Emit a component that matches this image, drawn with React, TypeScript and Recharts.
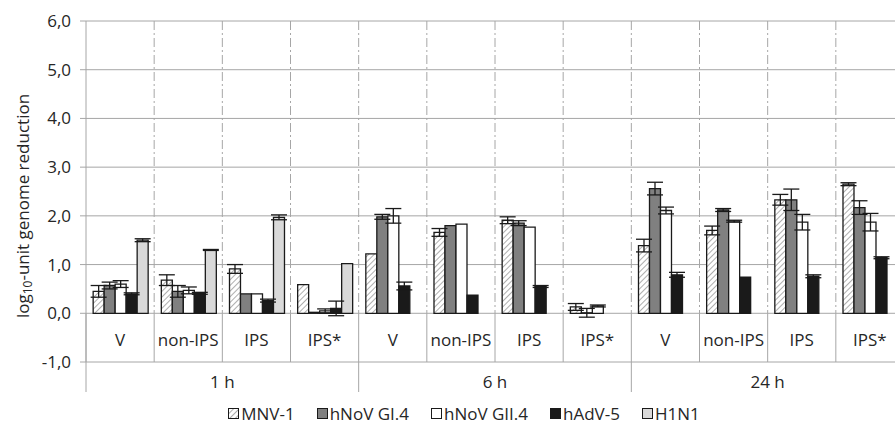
import { BarChart, Bar, XAxis, YAxis, CartesianGrid, ErrorBar } from 'recharts';

// sub-categories, repeated for each time point
const categories = ['V', 'non-IPS', 'IPS', 'IPS*', 'V', 'non-IPS', 'IPS', 'IPS*', 'V', 'non-IPS', 'IPS', 'IPS*'];
const timePoints = ['1 h', '6 h', '24 h'];
const yTicks = [-1, 0, 1, 2, 3, 4, 5, 6];

// log10 reduction values
const mnv = [0.45, 0.68, 0.91, 0.59, 1.22, 1.66, 1.91, 0.13, 1.39, 1.70, 2.33, 2.65];
const mnvErr = [0.12, 0.11, 0.09, 0, 0, 0.08, 0.07, 0.07, 0.13, 0.09, 0.11, 0.03];
const gi4 = [0.57, 0.45, 0.40, 0.02, 1.98, 1.80, 1.85, 0.01, 2.56, 2.12, 2.33, 2.17];
const gi4Err = [0.07, 0.12, 0, 0, 0.05, 0, 0.05, 0.09, 0.13, 0.03, 0.22, 0.14];
const gii4 = [0.60, 0.47, 0.40, 0.05, 2.00, 1.83, 1.77, 0.15, 2.11, 1.89, 1.87, 1.87];
const gii4Err = [0.07, 0.07, 0, 0.04, 0.15, 0, 0, 0.02, 0.07, 0.02, 0.16, 0.18];
const adv = [0.40, 0.41, 0.26, 0.10, 0.56, 0.37, 0.55, 0.0, 0.79, 0.74, 0.76, 1.14];
const advErr = [0.02, 0.02, 0.03, 0.15, 0.08, 0, 0.02, 0.05, 0.05, 0, 0.03, 0.02];
const h1n1 = [1.50, 1.30, 1.97, 1.02, null, null, null, null, null, null, null, null];
const h1n1Err = [0.03, 0.01, 0.05, 0, null, null, null, null, null, null, null, null];

const rows = categories.map((c, i) => ({
  id: `${timePoints[Math.floor(i / 4)]}|${c}`,
  mnv: mnv[i], mnvErr: mnvErr[i],
  gi4: gi4[i], gi4Err: gi4Err[i],
  gii4: gii4[i], gii4Err: gii4Err[i],
  adv: adv[i], advErr: advErr[i],
  h1n1: h1n1[i], h1n1Err: h1n1Err[i],
}));

const FONT = '"Open Sans", sans-serif';
const FS = 17;
const TXT = '#262626';
const GRID = '#a6a6a6';
const EDGE = '#1a1a1a';

const W = 905;
const H = 426;
const TOP = 21;
const LEFT = 86;
const RIGHT_M = 1;
const XAXIS_H = 64;
const PLOT_W = W - LEFT - RIGHT_M;
const PLOT_H = H - TOP - XAXIS_H;
const BW = PLOT_W / categories.length;
const Y0 = TOP + (6 / 7) * PLOT_H;
const YB = TOP + PLOT_H;

const CatTick = (props: any) => {
  const { x, index } = props;
  const left = x - BW / 2;
  const groupStart = index % 4 === 0;
  return (
    <g>
      {index > 0 && (
        <line x1={left} x2={left} y1={TOP} y2={Y0} stroke={GRID} strokeDasharray="9 3 2 3" />
      )}
      <line x1={left} x2={left} y1={Y0} y2={groupStart ? YB + 30 : YB} stroke={GRID} />
      {index === categories.length - 1 && (
        <line x1={left + BW} x2={left + BW} y1={TOP} y2={YB + 30} stroke={GRID} />
      )}
      <text x={x} y={(Y0 + YB) / 2 + 2} textAnchor="middle" dominantBaseline="central"
        fill={TXT} fontSize={FS} fontFamily={FONT}>
        {categories[index]}
      </text>
      {groupStart && (
        <text x={left + 2 * BW} y={YB + 19} textAnchor="middle" dominantBaseline="central"
          fill={TXT} fontSize={FS} fontFamily={FONT}>
          {timePoints[index / 4]}
        </text>
      )}
    </g>
  );
};

const legendItems = [
  { name: 'MNV-1', fill: 'hatch' },
  { name: 'hNoV GI.4', fill: '#808080' },
  { name: 'hNoV GII.4', fill: '#ffffff' },
  { name: 'hAdV-5', fill: EDGE },
  { name: 'H1N1', fill: '#d9d9d9' },
];

export default function App() {
  return (
    <div style={{ position: 'absolute', left: 0, top: 0, width: 895, height: 426, overflow: 'hidden', background: '#fff' }}>
      <BarChart width={W} height={H} data={rows}
        margin={{ top: TOP, right: RIGHT_M, left: 0, bottom: 0 }}
        barCategoryGap="10.5%" barGap={0}>
        <defs>
          <pattern id="hatch" patternUnits="userSpaceOnUse" width="4" height="4" patternTransform="rotate(45)">
            <rect width="4" height="4" fill="#fff" />
            <line x1="0" y1="0" x2="0" y2="4" stroke="#9a9a9a" strokeWidth="1.6" />
          </pattern>
        </defs>
        <CartesianGrid vertical={false} stroke={GRID} />
        <XAxis dataKey="id" interval={0} height={XAXIS_H} axisLine={false} tickLine={false} tick={<CatTick />} />
        <YAxis width={LEFT} domain={[-1, 6]} ticks={yTicks} interval={0}
          tickFormatter={(v: number) => v.toFixed(1).replace('.', ',')}
          tick={{ fill: TXT, fontSize: FS, fontFamily: FONT }}
          axisLine={{ stroke: GRID }} tickLine={{ stroke: GRID }} tickSize={6} tickMargin={9} />
        <Bar dataKey="mnv" fill="url(#hatch)" stroke={EDGE} strokeWidth={1.3} isAnimationActive={false}>
          <ErrorBar dataKey="mnvErr" width={8} stroke={EDGE} strokeWidth={1.3} />
        </Bar>
        <Bar dataKey="gi4" fill="#808080" stroke={EDGE} strokeWidth={1.3} isAnimationActive={false}>
          <ErrorBar dataKey="gi4Err" width={8} stroke={EDGE} strokeWidth={1.3} />
        </Bar>
        <Bar dataKey="gii4" fill="#ffffff" stroke={EDGE} strokeWidth={1.3} isAnimationActive={false}>
          <ErrorBar dataKey="gii4Err" width={8} stroke={EDGE} strokeWidth={1.3} />
        </Bar>
        <Bar dataKey="adv" fill={EDGE} stroke={EDGE} strokeWidth={1.3} isAnimationActive={false}>
          <ErrorBar dataKey="advErr" width={8} stroke={EDGE} strokeWidth={1.3} />
        </Bar>
        <Bar dataKey="h1n1" fill="#d9d9d9" stroke={EDGE} strokeWidth={1.3} isAnimationActive={false}>
          <ErrorBar dataKey="h1n1Err" width={8} stroke={EDGE} strokeWidth={1.3} />
        </Bar>
      </BarChart>
      <svg width={40} height={426} style={{ position: 'absolute', left: 0, top: 0 }}>
        <text transform={`translate(22, 206) rotate(-90)`} textAnchor="middle"
          fill={TXT} fontSize={FS} fontFamily={FONT} dominantBaseline="central">
          <tspan>log</tspan>
          <tspan fontSize={12} dy={5}>10</tspan>
          <tspan dy={-5}>-unit genome reduction</tspan>
        </text>
      </svg>
      <div style={{ position: 'absolute', left: 0, width: 928, top: 402, display: 'flex', justifyContent: 'center', gap: 22, fontFamily: FONT, fontSize: FS, color: TXT }}>
        {legendItems.map(it => (
          <div key={it.name} style={{ display: 'flex', alignItems: 'center' }}>
            <svg width={11} height={11} style={{ marginRight: 2 }}>
              <rect x={0.5} y={0.5} width={10} height={10}
                fill={it.fill === 'hatch' ? 'url(#hatch)' : it.fill} stroke={EDGE} strokeWidth={1} />
            </svg>
            <span>{it.name}</span>
          </div>
        ))}
      </div>
    </div>
  );
}
